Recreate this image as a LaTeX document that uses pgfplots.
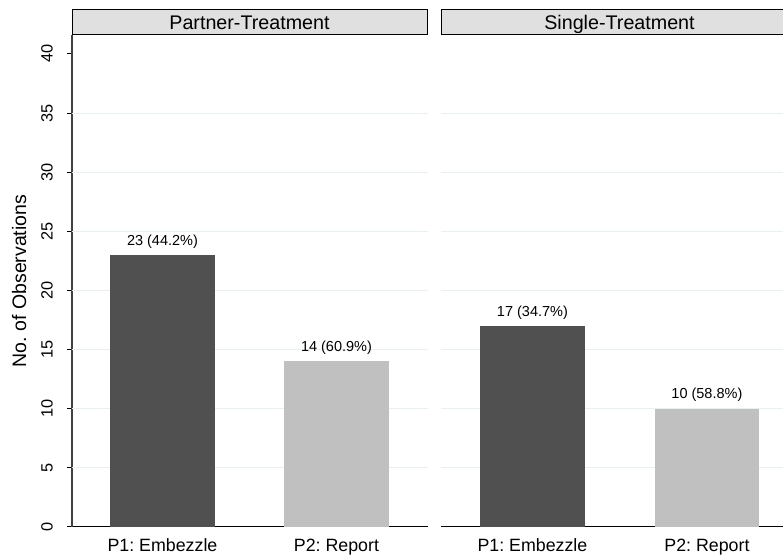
\documentclass[border=0pt]{standalone}
\usepackage{fontspec}
\setmainfont{Liberation Sans}
\usepackage{pgfplots}
\pgfplotsset{compat=1.18}
\definecolor{dark}{RGB}{80,80,80}
\definecolor{light}{RGB}{192,192,192}
\definecolor{gridc}{RGB}{232,240,242}
\definecolor{hdr}{RGB}{224,224,224}
\begin{document}
\frenchspacing
\begin{tikzpicture}[x=1pt,y=1pt]
\useasboundingbox (0,0) rectangle (783,558);
\pgfplotsset{
 panel/.style={
  scale only axis, anchor=south west,
  height=491.7pt, ymin=0, ymax=41.6,
  bar width=0.6, ybar=0pt,
  axis x line*=bottom, axis y line*=left,
  x axis line style={black, line width=1.2pt, -},
  xtick={1,2}, xticklabels={P1:\ Embezzle, P2:\ Report},
  xtick style={draw=none},
  tick align=outside, major tick length=5pt,
  xticklabel style={font=\fontsize{17.8}{20}\selectfont, anchor=north, inner sep=0pt},
  xticklabel shift=7pt,
  nodes near coords=\pgfplotspointmeta, point meta=explicit symbolic,
  nodes near coords style={font=\fontsize{14.5}{16}\selectfont, anchor=south, inner sep=0pt, yshift=6.5pt},
  grid style={gridc, line width=0.8pt},
  clip=false,
 }
}
\begin{axis}[panel, at={(72pt,31.3pt)}, width=356pt, xmin=0.48, xmax=2.526,
  ytick={0,5,...,40},
  /pgf/number format/assume math mode=true,
  ytick style={black, line width=1pt},
  y axis line style={black!75, line width=1.2pt, -},
  yticklabel style={rotate=90, anchor=south, inner sep=0pt, font=\fontsize{16.3}{18}\selectfont},
  yticklabel shift=14pt,
  extra y ticks={5,10,...,35}, extra y tick labels={},
  extra y tick style={grid=major, major tick length=0pt, tick style={draw=none}},
]
\addplot[fill=dark, draw=none, bar shift=0pt] coordinates {(1,23) [23 (44.2\%)]};
\addplot[fill=light, draw=none, bar shift=0pt] coordinates {(2,14) [14 (60.9\%)]};
\end{axis}
\begin{axis}[panel, at={(441pt,31.3pt)}, width=357pt, xmin=0.476, xmax=2.522,
  y axis line style={draw=none},
  ytick={5,10,...,35}, yticklabels={}, ytick style={draw=none},
  ymajorgrids,
]
\addplot[fill=dark, draw=none, bar shift=0pt] coordinates {(1,17) [17 (34.7\%)]};
\addplot[fill=light, draw=none, bar shift=0pt] coordinates {(2,10) [10 (58.8\%)]};
\end{axis}
\draw[fill=hdr, draw=black, line width=1pt] (72,523) rectangle (427,548.5);
\node[font=\fontsize{19.7}{22}\selectfont, anchor=base] at (249.5,528.7) {Partner-Treatment};
\draw[fill=hdr, draw=black, line width=1pt] (441,523) rectangle (800,548.5);
\node[font=\fontsize{19.7}{22}\selectfont, anchor=base] at (619.5,528.7) {Single-Treatment};
\node[font=\fontsize{19.5}{22}\selectfont, rotate=90, anchor=base] at (26,277) {No. of Observations};
\end{tikzpicture}
\end{document}
